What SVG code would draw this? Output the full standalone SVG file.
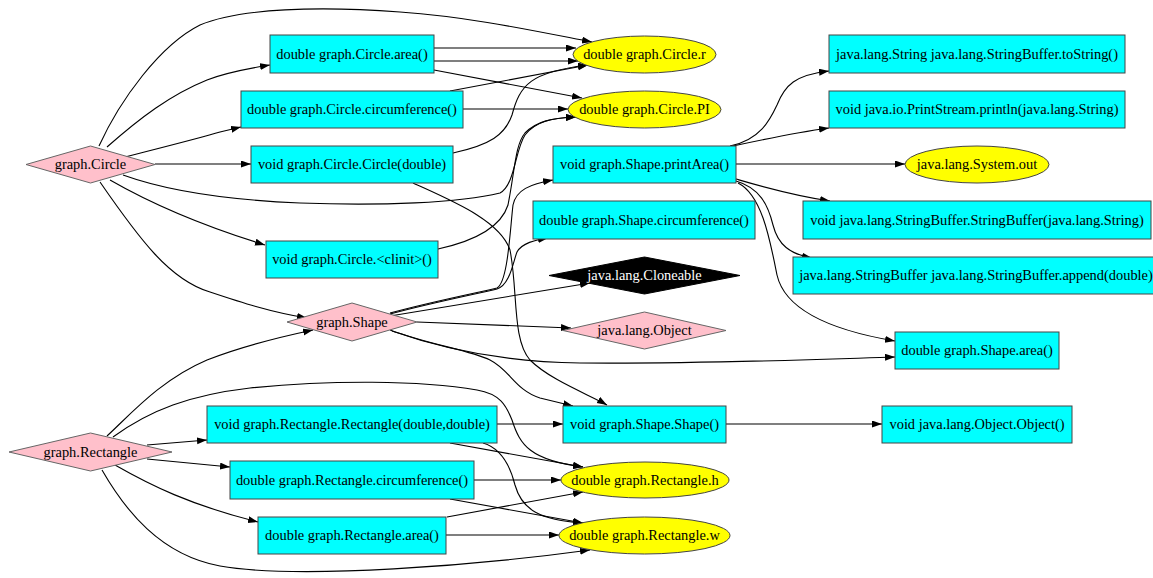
<svg xmlns="http://www.w3.org/2000/svg" width="1153" height="578" viewBox="0 0 1153 578">
<style>
text{font-family:"Liberation Serif","Times New Roman",serif;font-size:14.4px;text-anchor:middle;fill:#000}
.box{fill:#00ffff;stroke:#444;stroke-width:1}
.ell{fill:#ffff00;stroke:#444;stroke-width:1}
.dia{fill:#ffc0cb;stroke:#666;stroke-width:1}
.blk{fill:#000;stroke:#000;stroke-width:1}
.wt{fill:#fff}
#edges path{fill:none;stroke:#000;stroke-width:1.1;marker-end:url(#ah)}
</style>
<defs>
<marker id="ah" markerUnits="userSpaceOnUse" markerWidth="11" markerHeight="8" refX="10" refY="3.5" orient="auto">
<path d="M0,0 L10,3.5 L0,7 z" fill="#000"/>
</marker>
</defs>
<rect width="1153" height="578" fill="#fff"/>
<g id="edges">
<path d="M99,146 C120,100 160,45 200,25 C240,8 320,6 400,12 C470,17 530,30 592,42"/>
<path d="M107,147 C140,118 170,95 207,80 C225,73 245,69 270,65"/>
<path d="M125,157 C160,148 200,138 220,132 L241,127"/>
<path d="M155,164 L251,164"/>
<path d="M110,180 C150,203 200,225 265,245"/>
<path d="M100,182 C140,240 170,280 210,292 C240,302 270,312 307,318"/>
<path d="M123,175 C170,192 230,200 300,203 C380,206 460,203 500,193 C515,185 515,150 525,135 C535,122 550,118 576,117"/>
<path d="M434,48 L576,48"/>
<path d="M434,61 L578,61"/>
<path d="M434,70 L582,98"/>
<path d="M450,91 L588,65"/>
<path d="M463,109 L568,109"/>
<path d="M453,153 C490,145 505,135 512,115 C520,85 530,72 588,65"/>
<path d="M413,183 C450,200 500,220 510,250 C518,290 512,340 530,360 C550,380 590,395 607,405"/>
<path d="M438,249 C470,242 500,230 508,205 C515,170 515,145 525,133 C537,121 552,118 576,117"/>
<path d="M390,313 C430,302 480,292 497,288 C508,282 510,230 513,205 C516,190 530,184 553,180"/>
<path d="M390,314 C430,303 480,293 497,289 C510,285 513,262 517,252 C522,243 535,240 548,238"/>
<path d="M390,316 L590,283"/>
<path d="M417,322 L571,328"/>
<path d="M392,331 C440,348 500,362 580,363 C700,364 800,360 895,357"/>
<path d="M390,330 C430,345 470,350 490,360 C510,370 515,390 540,398 L573,406"/>
<path d="M730,146 C760,140 770,120 777,105 C785,85 795,75 829,71"/>
<path d="M733,146 C770,138 800,132 829,128"/>
<path d="M736,164 L905,164"/>
<path d="M736,179 C760,186 790,195 830,201"/>
<path d="M736,181 C760,188 768,205 773,225 C778,245 790,254 812,258"/>
<path d="M738,183 C762,195 770,240 777,275 C785,310 830,330 895,341"/>
<path d="M726,424 L882,424"/>
<path d="M107,436 C130,415 160,380 207,360 C240,347 280,337 313,330"/>
<path d="M113,437 C150,410 190,395 250,388 C330,380 420,380 477,390 C500,394 506,405 512,420 C520,445 530,460 583,467"/>
<path d="M147,445 L207,440"/>
<path d="M147,459 L230,467"/>
<path d="M115,465 C150,485 190,505 258,522"/>
<path d="M102,470 C125,510 160,555 220,566 C300,580 480,565 590,550"/>
<path d="M497,424 L563,424"/>
<path d="M450,443 L583,467"/>
<path d="M483,443 C500,448 510,465 515,485 C522,510 540,520 583,523"/>
<path d="M474,480 L561,480"/>
<path d="M450,499 L583,523"/>
<path d="M447,517 L583,492"/>
<path d="M446,535 L559,535"/>
</g>
<g id="n_circle"><polygon class="dia" points="26,164.5 90.5,146 155,164.5 90.5,183"/><text x="90.5" y="169">graph.Circle</text></g>
<g id="n_circle_area"><rect class="box" x="270" y="35" width="164" height="38"/><text x="352" y="59">double graph.Circle.area()</text></g>
<g id="n_circle_circ"><rect class="box" x="241" y="91" width="222" height="37"/><text x="352" y="114">double graph.Circle.circumference()</text></g>
<g id="n_circle_ctor"><rect class="box" x="251" y="146" width="202" height="37"/><text x="352" y="169">void graph.Circle.Circle(double)</text></g>
<g id="n_circle_clinit"><rect class="box" x="266" y="241" width="172" height="37"/><text x="352" y="264">void graph.Circle.&lt;clinit&gt;()</text></g>
<g id="n_shape"><polygon class="dia" points="287,322 352,303 417,322 352,341"/><text x="352" y="327">graph.Shape</text></g>
<g id="n_rect"><polygon class="dia" points="9,452 90.5,433 172,452 90.5,471"/><text x="90.5" y="457">graph.Rectangle</text></g>
<g id="n_rect_ctor"><rect class="box" x="207" y="406" width="290" height="37"/><text x="352" y="429">void graph.Rectangle.Rectangle(double,double)</text></g>
<g id="n_rect_circ"><rect class="box" x="230" y="461" width="244" height="38"/><text x="352" y="485">double graph.Rectangle.circumference()</text></g>
<g id="n_rect_area"><rect class="box" x="258" y="517" width="188" height="37"/><text x="352" y="540">double graph.Rectangle.area()</text></g>
<g id="n_circle_r"><ellipse class="ell" cx="644.5" cy="54.5" rx="71.5" ry="18.5"/><text x="644.5" y="59">double graph.Circle.r</text></g>
<g id="n_circle_pi"><ellipse class="ell" cx="644.5" cy="109.5" rx="76.5" ry="18.5"/><text x="644.5" y="114">double graph.Circle.PI</text></g>
<g id="n_printarea"><rect class="box" x="553" y="146" width="183" height="37"/><text x="644.5" y="169">void graph.Shape.printArea()</text></g>
<g id="n_shape_circ"><rect class="box" x="533" y="201" width="222" height="38"/><text x="644" y="225">double graph.Shape.circumference()</text></g>
<g id="n_cloneable"><polygon class="blk" points="549,275.5 644.5,257 740,275.5 644.5,294"/><text class="wt" x="644.5" y="280">java.lang.Cloneable</text></g>
<g id="n_object"><polygon class="dia" points="563,330.5 644.5,312 726,330.5 644.5,349"/><text x="644.5" y="335">java.lang.Object</text></g>
<g id="n_shape_ctor"><rect class="box" x="563" y="406" width="163" height="37"/><text x="644.5" y="429">void graph.Shape.Shape()</text></g>
<g id="n_rect_h"><ellipse class="ell" cx="645" cy="480" rx="84" ry="18"/><text x="645" y="485">double graph.Rectangle.h</text></g>
<g id="n_rect_w"><ellipse class="ell" cx="644.5" cy="535.5" rx="85.5" ry="18.5"/><text x="644.5" y="540">double graph.Rectangle.w</text></g>
<g id="n_tostring"><rect class="box" x="829" y="35" width="296" height="38"/><text x="977" y="59">java.lang.String java.lang.StringBuffer.toString()</text></g>
<g id="n_println"><rect class="box" x="829" y="91" width="296" height="37"/><text x="977" y="114">void java.io.PrintStream.println(java.lang.String)</text></g>
<g id="n_sysout"><ellipse class="ell" cx="977" cy="164.5" rx="72" ry="18.5"/><text x="977" y="169">java.lang.System.out</text></g>
<g id="n_sb_ctor"><rect class="box" x="803" y="201" width="348" height="38"/><text x="977" y="225">void java.lang.StringBuffer.StringBuffer(java.lang.String)</text></g>
<g id="n_sb_append"><rect class="box" x="793" y="257" width="368" height="37"/><text x="976" y="280">java.lang.StringBuffer java.lang.StringBuffer.append(double)</text></g>
<g id="n_shape_area"><rect class="box" x="895" y="332" width="164" height="37"/><text x="977" y="355">double graph.Shape.area()</text></g>
<g id="n_object_ctor"><rect class="box" x="882" y="406" width="190" height="37"/><text x="977" y="429">void java.lang.Object.Object()</text></g>
</svg>
